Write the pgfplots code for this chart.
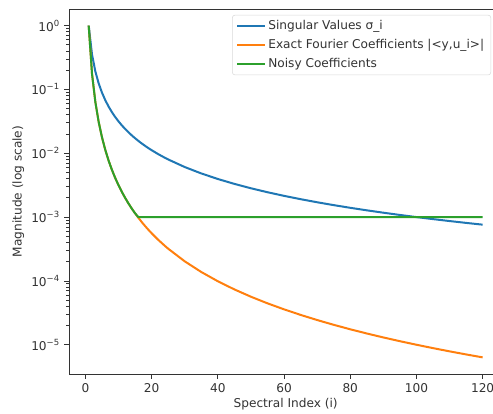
\documentclass[border=0pt]{standalone}
\usepackage{fontspec}
\setmainfont{DejaVu Sans}
\usepackage{pgfplots}
\pgfplotsset{compat=1.18}
\definecolor{mplblue}{HTML}{1F77B4}
\definecolor{mplorange}{HTML}{FF7F0E}
\definecolor{mplgreen}{HTML}{2CA02C}
\begin{document}
\fontsize{9.1}{11}\selectfont
\begin{tikzpicture}
\begin{axis}[
  at={(0,0)}, anchor=south west,
  scale only axis,
  width=325pt, height=273.75pt,
  xmin=-4.95, xmax=125.95,
  ymode=log, ymin=3.48e-6, ymax=1.82,
  xtick={0,20,40,60,80,100,120},
  ytick={1e-5,1e-4,1e-3,1e-2,1e-1,1},
  yticklabels={10\textsuperscript{−5},10\textsuperscript{−4},10\textsuperscript{−3},10\textsuperscript{−2},10\textsuperscript{−1},10\textsuperscript{0}},
  /pgf/number format/assume math mode=true,
  tick label style={font=\fontsize{9.1}{11}\selectfont, text=black!80},
  label style={font=\fontsize{9.1}{11}\selectfont, text=black!80},
  xlabel={Spectral Index (i)},
  ylabel={Magnitude (log scale)},
  xlabel style={yshift=2pt},
  ylabel style={yshift=-1pt},
  tick align=outside,
  tick pos=left,
  major tick length=3.6pt,
  minor tick length=2.1pt,
  axis line style={black!80, line width=0.6pt},
  every tick/.style={black!80, line width=0.6pt},
  legend style={at={(0.974,0.984)}, anchor=north east, draw=black!15, rounded corners=2pt,
    font=\fontsize{9.1}{11}\selectfont, text=black!80, inner xsep=3pt, inner ysep=2pt, row sep=2pt},
  legend cell align=left,
  legend image code/.code={\draw[#1] (0cm,0cm) -- (0.72cm,0cm);},
]
\addplot[mplblue, line width=1.5pt] coordinates {
(1,1) (2,0.35355) (3,0.19245) (4,0.125) (5,0.089443) (6,0.068041) (7,0.053995) (8,0.044194) (9,0.037037) (10,0.031623)
(11,0.027410) (12,0.024056) (13,0.021335) (14,0.019090) (15,0.017213) (16,0.015625) (17,0.014267) (18,0.013095) (19,0.012075) (20,0.011180)
(22,0.0096909) (24,0.0085048) (25,0.008) (30,0.0060858) (35,0.0048295) (40,0.0039528) (45,0.0033127) (50,0.0028284) (55,0.0024516) (60,0.0021517)
(65,0.0019083) (70,0.0017075) (75,0.0015396) (80,0.0013975) (85,0.0012760) (90,0.0011712) (95,0.0010799) (100,0.001) (105,0.00092943) (110,0.00086678) (115,0.00081087) (120,0.00076073)
};
\addlegendentry{Singular Values σ\_i}
\addplot[mplorange, line width=1.5pt] coordinates {
(1,1) (2,0.17678) (3,0.06415) (4,0.03125) (5,0.017889) (6,0.011340) (7,0.0077136) (8,0.0055243) (9,0.0041152) (10,0.0031623)
(11,0.0024918) (12,0.0020047) (13,0.0016412) (14,0.0013636) (15,0.0011476) (16,0.00097656) (17,0.00083923) (18,0.00072750) (19,0.00063552) (20,0.00055902)
(22,0.00044050) (24,0.00035437) (25,0.00032) (30,0.00020286) (35,0.00013799) (40,9.8821e-5) (45,7.3616e-5) (50,5.6569e-5) (55,4.4575e-5) (60,3.5862e-5)
(65,2.9358e-5) (70,2.4393e-5) (75,2.0528e-5) (80,1.7469e-5) (85,1.5012e-5) (90,1.3013e-5) (95,1.1368e-5) (100,1e-5) (105,8.8517e-6) (110,7.8798e-6) (115,7.0511e-6) (120,6.3394e-6)
};
\addlegendentry{Exact Fourier Coefficients |<y,u\_i>|}
\addplot[mplgreen, line width=1.5pt] coordinates {
(1,1) (2,0.17678) (3,0.06415) (4,0.03125) (5,0.017889) (6,0.011340) (7,0.0077136) (8,0.0055243) (9,0.0041152) (10,0.0031623)
(11,0.0024918) (12,0.0020047) (13,0.0016412) (14,0.0013636) (15,0.0011476) (16,0.001) (20,0.001) (40,0.001) (60,0.001) (80,0.001) (100,0.001) (120,0.001)
};
\addlegendentry{Noisy Coefficients}
\end{axis}
\pgfresetboundingbox
\useasboundingbox (-51.75pt,-30pt) rectangle (318pt,280.5pt);
\end{tikzpicture}
\end{document}
